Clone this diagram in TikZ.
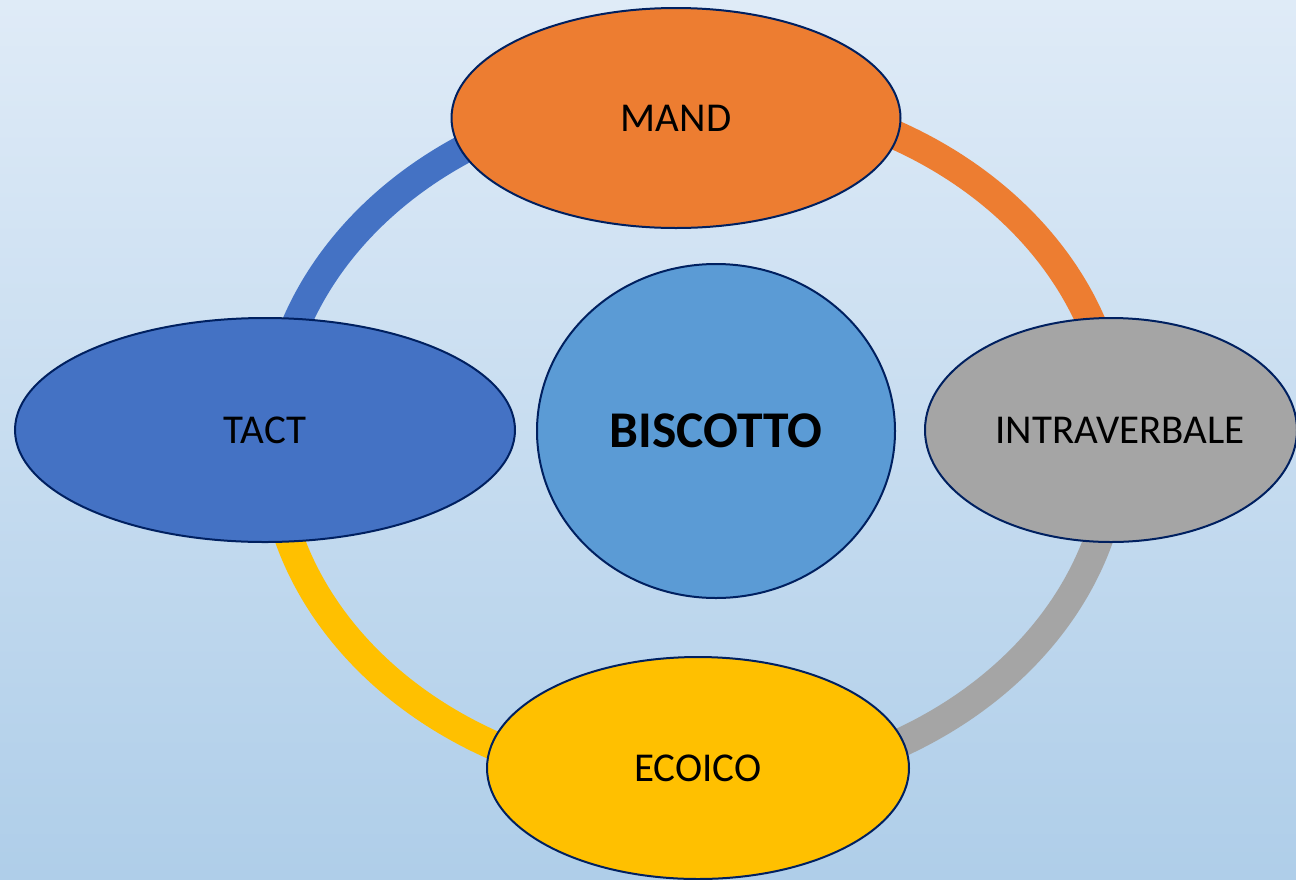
\documentclass[tikz,border=0pt]{standalone}
\usepackage{fontspec}
\setmainfont{Carlito}
\usetikzlibrary{shapes.geometric}
\definecolor{bgtop}{HTML}{DFEBF7}
\definecolor{bgbot}{HTML}{AFCEE9}
\definecolor{orangeA}{HTML}{ED7D31}
\definecolor{blueA}{HTML}{4472C4}
\definecolor{grayA}{HTML}{A5A5A5}
\definecolor{goldA}{HTML}{FFC000}
\definecolor{blueB}{HTML}{5B9BD5}
\definecolor{navyA}{HTML}{002060}
\begin{document}
\begin{tikzpicture}[x=1pt,y=-1pt,
  bubble/.style={ellipse, draw=navyA, line width=2pt, inner sep=0pt},
  label/.style={font=\fontsize{41}{48}\selectfont, text=black},
  ringarc/.style={line width=29pt, line cap=butt}]
  % background
  \shade[top color=bgtop, bottom color=bgbot] (0,0) rectangle (1296,879);
  \useasboundingbox (0,0) rectangle (1296,879);

  % centre of the ring that links the four operants
  \coordinate (ring) at (694,440);

  % ring segments (the ellipses below cover their ends)
  \draw[ringarc, blueA]   (ring) ++(180:422 and 347) arc[start angle=180, end angle=270, x radius=422, y radius=347];
  \draw[ringarc, orangeA] (ring) ++(270:422 and 347) arc[start angle=270, end angle=360, x radius=422, y radius=347];
  \draw[ringarc, grayA]   (ring) ++(0:422 and 347)   arc[start angle=0,   end angle=90,  x radius=422, y radius=347];
  \draw[ringarc, goldA]   (ring) ++(90:422 and 347)  arc[start angle=90,  end angle=180, x radius=422, y radius=347];

  % operants
  \node[bubble, fill=orangeA, minimum width=449pt, minimum height=220pt] (mand) at (676,118) {};
  \node[label] at (mand.center) {MAND};
  \node[bubble, fill=blueA, minimum width=500pt, minimum height=224pt] (tact) at (265,430) {};
  \node[label] at (tact.center) {TACT};
  \node[bubble, fill=grayA, minimum width=372pt, minimum height=224pt] (intra) at (1111,430) {};
  \node[label] at ([xshift=9pt]intra.center) {INTRAVERBALE};
  \node[bubble, fill=goldA, minimum width=422pt, minimum height=222pt] (ecoico) at (698,768) {};
  \node[label] at (ecoico.center) {ECOICO};

  % central word
  \node[bubble, fill=blueB, minimum width=358pt, minimum height=334pt] (biscotto) at (716,431) {};
  \node at (biscotto.center) {\fontsize{51.5}{60}\selectfont\bfseries BISCOTTO};
\end{tikzpicture}
\end{document}
